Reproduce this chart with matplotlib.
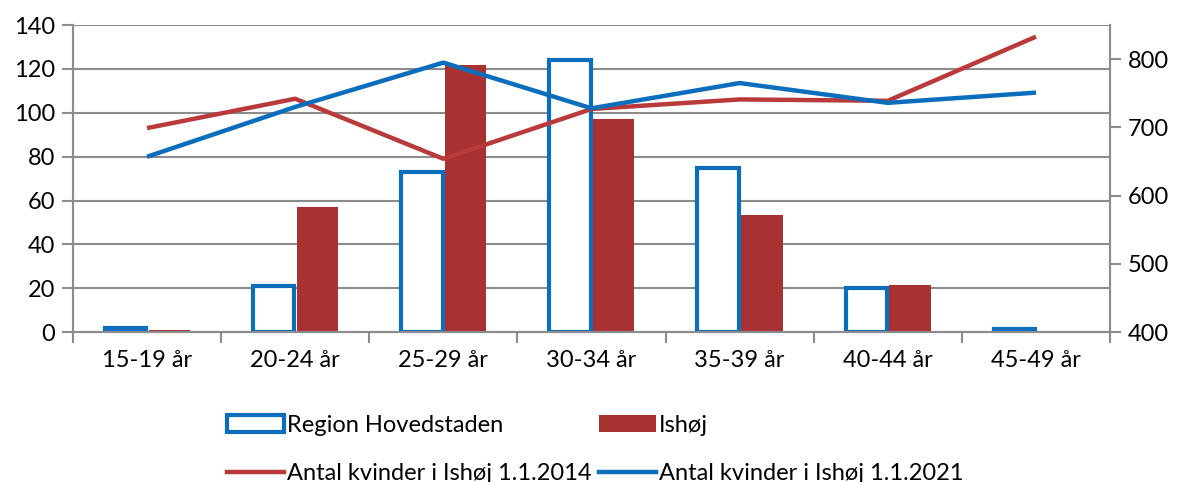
import numpy as np
import matplotlib
matplotlib.use("Agg")
import matplotlib.pyplot as plt
from matplotlib.patches import Patch
from matplotlib.lines import Line2D

plt.rcParams['font.family'] = ['Lato', 'DejaVu Sans']

# data
categories = ["15-19 år", "20-24 år", "25-29 år", "30-34 år", "35-39 år", "40-44 år", "45-49 år"]
region_hovedstaden = [2, 21, 73, 124, 75, 20, 1.5]
ishoj = [0.9, 57, 122, 97, 53.6, 21.4, 0]
kvinder_2014 = [699, 742, 654, 727, 741, 739, 833]
kvinder_2021 = [657, 730, 795, 728, 765, 736, 751]

BLUE = "#0A6EBD"
RED_BAR = "#A83232"
RED_LINE = "#B83A3A"
GRID = "#8C8C8C"
FS = 17

fig = plt.figure(figsize=(11.79, 4.82), dpi=100)
ax = fig.add_axes([0.0619, 0.311, 0.8796, 0.637])
ax2 = ax.twinx()

x = np.arange(len(categories))
w = 0.28
ax.bar(x - 0.145, region_hovedstaden, w, facecolor="white", edgecolor=BLUE,
       linewidth=3, zorder=3)
ax.bar(x + 0.15, ishoj, w, color=RED_BAR, zorder=3)

ax.set_ylim(0, 140)
ax.set_yticks(np.arange(0, 141, 20))
ax.set_xlim(-0.5, len(categories) - 0.5)
ax.set_xticks(x)
ax.set_xticklabels(categories)
ax.set_xticks(np.arange(-0.5, len(categories)), minor=True)
ax.tick_params(axis="x", which="major", length=0, pad=13, labelsize=FS)
ax.tick_params(axis="x", which="minor", length=8, color=GRID, width=1.5)
ax.tick_params(axis="y", length=8, color=GRID, width=1.5, labelsize=FS, pad=5)
ax.grid(axis="y", color=GRID, linewidth=1.5, zorder=0)
ax.set_axisbelow(True)

ax2.plot(x, kvinder_2014, color=RED_LINE, linewidth=3.2, solid_capstyle="butt", zorder=4)
ax2.plot(x, kvinder_2021, color=BLUE, linewidth=3.2, solid_capstyle="butt", zorder=5)
ax2.set_ylim(400, 850)
ax2.set_yticks(np.arange(400, 801, 100))
ax2.tick_params(axis="y", length=8, color=GRID, width=1.5, labelsize=FS, pad=5)

for a in (ax, ax2):
    for side in ("left", "right", "bottom"):
        a.spines[side].set_color(GRID)
        a.spines[side].set_linewidth(1.5)
    a.spines["top"].set_visible(False)

handles = [
    Patch(facecolor="white", edgecolor=BLUE, linewidth=3),
    Line2D([], [], color=RED_LINE, linewidth=3.2),
    Patch(facecolor=RED_BAR),
    Line2D([], [], color=BLUE, linewidth=3.2),
]
labels = ["Region Hovedstaden", "Antal kvinder i Ishøj 1.1.2014",
          "Ishøj", "Antal kvinder i Ishøj 1.1.2021"]
fig.legend(handles, labels, ncol=2, loc="center", bbox_to_anchor=(0.505, 0.068),
           frameon=False, fontsize=FS, handlelength=2.4, handletextpad=0.15,
           columnspacing=0.3, labelspacing=1.15)

fig.savefig("out.png", dpi=100)
